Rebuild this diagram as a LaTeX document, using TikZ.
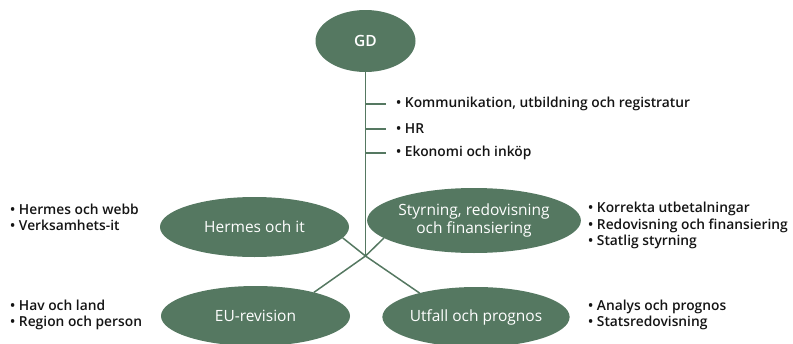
\documentclass[tikz,border=0pt]{standalone}
\usepackage{fontspec}
\setmainfont{Open Sans}
\newfontfamily\listfont{Open Sans Semibold}
\usetikzlibrary{shapes.geometric}
\definecolor{orggreen}{HTML}{557861}
\definecolor{listblack}{HTML}{141414}
\tikzset{
  unit/.style={ellipse, fill=orggreen, text=white, inner sep=0pt, outer sep=0pt,
    minimum height=60pt, align=center, font=\fontsize{15.5}{18.5}\selectfont},
  link/.style={draw=orggreen, line width=1.5pt},
  item/.style={anchor=west, inner sep=0pt, align=left, text=listblack,
    font=\listfont\fontsize{13.8}{16.5}\selectfont}
}
\begin{document}
\begin{tikzpicture}[x=1pt,y=-1pt]
  \useasboundingbox (0,0) rectangle (793,343);
  \node[unit, minimum width=100pt, minimum height=62pt] (gd) at (365.5,41) {\listfont GD};
  \node[unit, minimum width=189pt] (hermes) at (254.5,227) {Hermes och it};
  \node[unit, minimum width=189pt] (eu) at (255.5,316) {EU-revision};
  \node[unit, minimum width=181pt, minimum height=65pt] (styr) at (474,220.5) {Styrning, redovisning\\och finansiering};
  \node[unit, minimum width=182pt] (utfall) at (476,317) {Utfall och prognos};
  \coordinate (hub) at (gd.south |- 0,256);
  \draw[link] (gd.south) -- (hub);
  \draw[link] (hermes.-7.5) -- (hub) -- (utfall.157.3);
  \draw[link] (styr.191) -- (hub) -- (eu.22);
  \node[item] (k1) at (396,104) {• Kommunikation, utbildning och registratur};
  \node[item] (k2) at (396,129) {• HR};
  \node[item] (k3) at (396,153) {• Ekonomi och inköp};
  \foreach \k in {k1,k2,k3}
    \draw[link] (hub |- \k.west) -- ([xshift=-10pt]\k.west);
  \node[item] (hermeslist) at (10,217.5) {• Hermes och webb\\• Verksamhets-it};
  \node[item] (eulist) at (10,315) {• Hav och land\\• Region och person};
  \node[item] (styrlist) at (588,225.5) {• Korrekta utbetalningar\\• Redovisning och finansiering\\• Statlig styrning};
  \node[item] (utfalllist) at (588,315) {• Analys och prognos\\• Statsredovisning};
\end{tikzpicture}
\end{document}
